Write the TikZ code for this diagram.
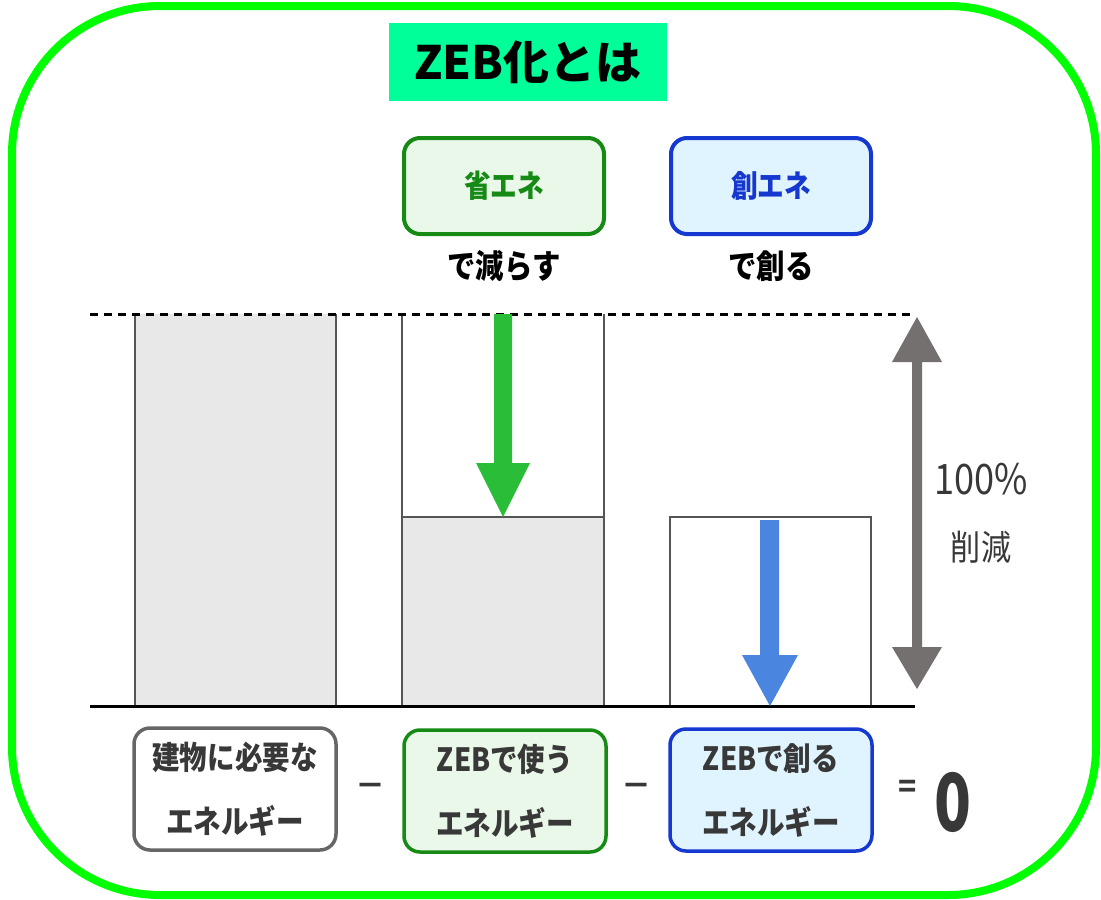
\documentclass[tikz,border=0pt]{standalone}
\usepackage{fontspec}
\setmainfont{Noto Sans CJK JP}
\newfontfamily\tallfont[FakeStretch=0.86]{Noto Sans CJK JP}
\newfontfamily\narrowfont[FakeStretch=0.76]{Noto Sans CJK JP}
\definecolor{framegreen}{HTML}{00FF00}
\definecolor{titlegreen}{HTML}{00FF99}
\definecolor{sgreen}{HTML}{158A15}
\definecolor{lgreen}{HTML}{EAF8EA}
\definecolor{sblue}{HTML}{1438D0}
\definecolor{lblue}{HTML}{E0F4FF}
\definecolor{bargray}{HTML}{E8E8E8}
\definecolor{edgegray}{HTML}{555555}
\definecolor{arrgreen}{HTML}{2ABD38}
\definecolor{arrblue}{HTML}{4A86E0}
\definecolor{arrgray}{HTML}{757070}
\definecolor{txtgray}{HTML}{383838}
\begin{document}
\begin{tikzpicture}[x=1pt,y=-1pt,
  frame/.style={draw=framegreen, line width=8pt, rounded corners=148pt},
  topbox/.style={rounded corners=16pt, line width=4pt, minimum width=200pt, minimum height=96pt, inner sep=0pt, font=\tallfont\fontsize{31}{33}\selectfont\bfseries},
  sublabel/.style={inner sep=0pt, font=\tallfont\fontsize{33}{35}\selectfont\bfseries, text=black},
  botbox/.style={rounded corners=16pt, line width=3.5pt, minimum width=202pt, minimum height=122pt, inner sep=0pt, align=center, text=txtgray, font=\tallfont\fontsize{32}{64}\selectfont\bfseries},
  bar/.style={draw=edgegray, line width=1.8pt},
  sym/.style={inner sep=0pt, text=txtgray}
]
\useasboundingbox (0,0) rectangle (1101,900);
\draw[frame] (12,6) rectangle (1096,895);

% title
\node[fill=titlegreen, minimum width=278pt, minimum height=78pt, inner sep=0pt,
  font=\fontsize{46}{48}\selectfont\bfseries] (title) at (528,62) {ZEB化とは};

% top boxes
\node[topbox, draw=sgreen, fill=lgreen, text=sgreen] (shoene) at (504,186) {省エネ};
\node[topbox, draw=sblue, fill=lblue, text=sblue] (souene) at (771,186) {創エネ};
\node[sublabel] (herasu) at (504,266) {で減らす};
\node[sublabel] (tsukuru) at (771,266) {で創る};

% bars
\fill[bargray] (135,314) rectangle (336,706);
\draw[bar] (135,706) -- (135,314) (336,314) -- (336,706);
\fill[bargray] (402,517) rectangle (604,706);
\draw[bar] (402,706) -- (402,314) (604,314) -- (604,706) (402,517) -- (604,517);
\draw[bar] (670,706) -- (670,517) -- (871,517) -- (871,706);

% dashed top line and baseline
\draw[black, line width=3pt, dash pattern=on 8pt off 6pt] (90,314) -- (915,314);
\draw[black, line width=3pt] (90,706) -- (915,706);

% green arrow
\fill[arrgreen] (494,314) -- (512,314) -- (512,463) -- (530,463) -- (503,517) -- (476,463) -- (494,463) -- cycle;
% blue arrow
\fill[arrblue] (760,520) -- (779,520) -- (779,655) -- (798,655) -- (770,706) -- (742,655) -- (760,655) -- cycle;
% gray double arrow
\fill[arrgray] (917,317) -- (942,362) -- (922,362) -- (922,647) -- (942,647) -- (917,689) -- (892,647) -- (912,647) -- (912,362) -- (892,362) -- cycle;

\node[sym, font=\tallfont\fontsize{42}{44}\selectfont] (pct) at (981,479) {100\%};
\node[sym, font=\tallfont\fontsize{35}{37}\selectfont] (sakugen) at (981,547) {削減};

% bottom equation
\node[botbox, draw=edgegray!90, fill=white] (need) at (235,789) {建物に必要な\\エネルギー};
\node[sym, font=\fontsize{30}{32}\selectfont\bfseries] (minus1) at (370,790) {－};
\node[botbox, draw=sgreen, fill=lgreen] (use) at (505,791) {ZEBで使う\\エネルギー};
\node[sym, font=\fontsize{30}{32}\selectfont\bfseries] (minus2) at (636,790) {－};
\node[botbox, draw=sblue, fill=lblue] (make) at (771,790) {ZEBで創る\\エネルギー};
\node[sym, font=\fontsize{30}{32}\selectfont\bfseries] (eq) at (908,789) {=};
\node[sym, font=\narrowfont\fontsize{80}{82}\selectfont\bfseries] (zero) at (953,802) {0};
\end{tikzpicture}
\end{document}
